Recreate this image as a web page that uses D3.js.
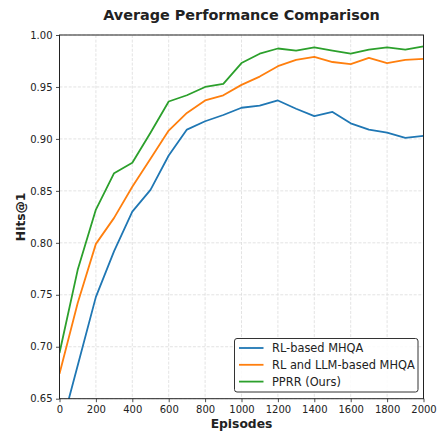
<!DOCTYPE html>
<meta charset="utf-8">
<html>
<head>
<script src="https://d3js.org/d3.v7.min.js"></script>
<style>
  body { margin: 0; background: #fff; }
  text { font-family: "DejaVu Sans", sans-serif; fill: #222; }
  .grid line { stroke: #dcdcdc; stroke-dasharray: 3,1.6; stroke-width: 0.8; }
</style>
</head>
<body>
<div id="chart"></div>
<script>

// episodes on the x axis
var episodes = [0,100,200,300,400,500,600,700,800,900,1000,1100,1200,1300,1400,1500,1600,1700,1800,1900,2000];

// Hits@1 for each method
var rlBased = [0.616,0.682,0.748,0.792,0.830,0.851,0.884,0.909,0.917,0.923,0.930,0.932,0.937,0.929,0.922,0.926,0.915,0.909,0.906,0.901,0.903];
var rlLlmBased = [0.674,0.742,0.799,0.824,0.854,0.881,0.908,0.925,0.937,0.942,0.952,0.960,0.970,0.976,0.979,0.974,0.972,0.978,0.973,0.976,0.977];
var pprr = [0.694,0.774,0.832,0.867,0.877,0.906,0.936,0.942,0.950,0.953,0.973,0.982,0.987,0.985,0.988,0.985,0.982,0.986,0.988,0.986,0.989];

var seriesNames = ["RL-based MHQA", "RL and LLM-based MHQA", "PPRR (Ours)"];
var seriesColors = ["#1f77b4", "#ff7f0e", "#2ca02c"];

var xTicks = [0,200,400,600,800,1000,1200,1400,1600,1800,2000];
var yTicks = [0.65,0.70,0.75,0.80,0.85,0.90,0.95,1.00];

// plot area
var margin = {top: 35, right: 14.5, bottom: 33.3, left: 59.5},
    W = 438, H = 432,
    width = W - margin.left - margin.right,
    height = H - margin.top - margin.bottom;

var svg = d3.select("#chart")
  .append("svg")
    .attr("width", W)
    .attr("height", H);

var g = svg.append("g")
    .attr("transform", "translate(" + margin.left + "," + margin.top + ")");

var x = d3.scaleLinear().domain([0, 2000]).range([0, width]);
var y = d3.scaleLinear().domain([0.65, 1.00]).range([height, 0]);

// grid
g.append("g").attr("class", "grid")
  .selectAll("line").data(xTicks).enter().append("line")
    .attr("x1", function(d){ return x(d); }).attr("x2", function(d){ return x(d); })
    .attr("y1", 0).attr("y2", height);
g.append("g").attr("class", "grid")
  .selectAll("line").data(yTicks).enter().append("line")
    .attr("y1", function(d){ return y(d); }).attr("y2", function(d){ return y(d); })
    .attr("x1", 0).attr("x2", width);

// clip lines to the axes box
g.append("clipPath").attr("id", "clip")
  .append("rect").attr("width", width).attr("height", height);

var allSeries = [rlBased, rlLlmBased, pprr];
var line = d3.line()
  .x(function(d, i){ return x(episodes[i]); })
  .y(function(d){ return y(d); });

g.append("g").attr("clip-path", "url(#clip)")
  .selectAll("path").data(allSeries).enter().append("path")
    .attr("d", line)
    .attr("fill", "none")
    .attr("stroke", function(d, i){ return seriesColors[i]; })
    .attr("stroke-width", 1.8)
    .attr("stroke-linejoin", "round");

// axes
var xAxis = g.append("g")
  .attr("transform", "translate(0," + height + ")")
  .call(d3.axisBottom(x).tickValues(xTicks).tickSize(3.5).tickPadding(3.5).tickFormat(d3.format("d")));
var yAxis = g.append("g")
  .call(d3.axisLeft(y).tickValues(yTicks).tickSize(3.5).tickPadding(3.5).tickFormat(d3.format(".2f")));

[xAxis, yAxis].forEach(function(a){
  a.select(".domain").remove();
  a.selectAll("line").attr("stroke", "#222").attr("stroke-width", 0.8);
  a.selectAll("text").style("font-size", "10px").attr("fill", "#222");
});

// box
g.append("rect")
  .attr("width", width).attr("height", height)
  .attr("fill", "none").attr("stroke", "#222").attr("stroke-width", 1);

// title and labels
svg.append("text")
  .attr("x", margin.left + width / 2).attr("y", 20)
  .attr("text-anchor", "middle")
  .style("font-size", "14.4px").style("font-weight", "bold")
  .text("Average Performance Comparison");

svg.append("text")
  .attr("x", margin.left + width / 2).attr("y", 428)
  .attr("text-anchor", "middle")
  .style("font-size", "12.3px").style("font-weight", "bold")
  .text("Episodes");

svg.append("text")
  .attr("transform", "translate(24.5," + (margin.top + height / 2) + ") rotate(-90)")
  .attr("text-anchor", "middle")
  .style("font-size", "12.3px").style("font-weight", "bold")
  .text("Hits@1");

// legend
var legend = svg.append("g").attr("transform", "translate(234.5,338.5)");
legend.append("rect")
  .attr("width", 183.5).attr("height", 53.5)
  .attr("rx", 2.5)
  .attr("fill", "#fff").attr("fill-opacity", 0.85)
  .attr("stroke", "#333").attr("stroke-width", 1);

var rows = legend.selectAll("g.row").data(seriesNames).enter().append("g")
  .attr("transform", function(d, i){ return "translate(0," + (9.5 + i * 16.8) + ")"; });
rows.append("line")
  .attr("x1", 4.5).attr("x2", 29)
  .attr("stroke", function(d, i){ return seriesColors[i]; })
  .attr("stroke-width", 1.8);
rows.append("text")
  .attr("x", 37.5).attr("dy", "0.36em")
  .style("font-size", "11.4px")
  .text(function(d){ return d; });

</script>
</body>
</html>
